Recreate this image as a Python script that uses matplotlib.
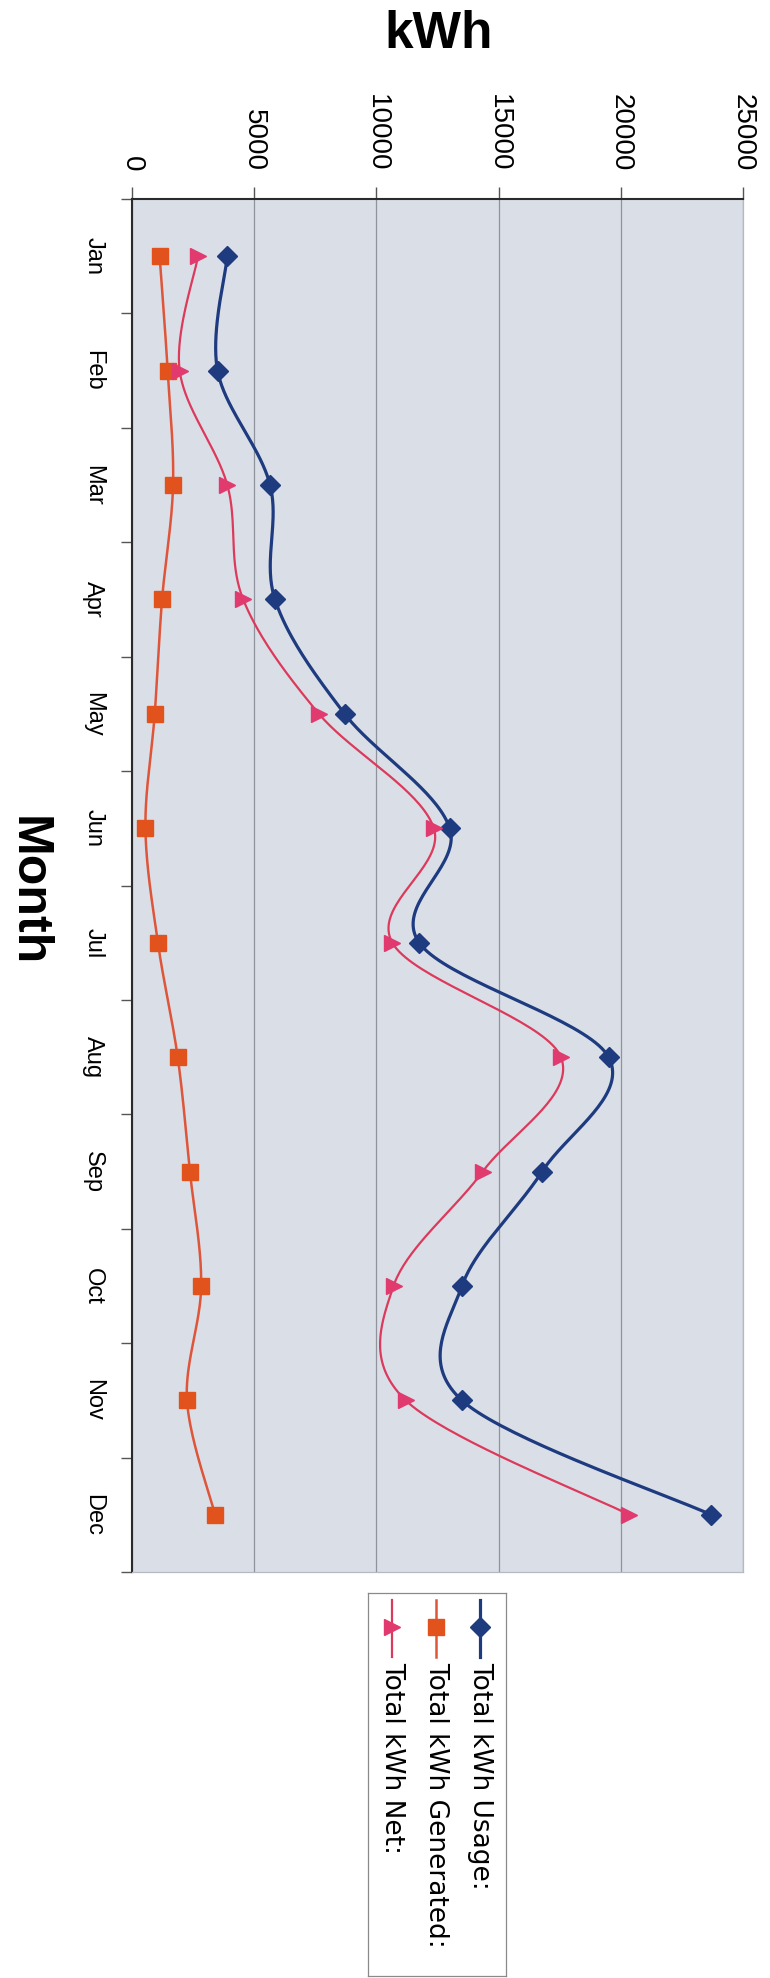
import numpy as np
import matplotlib
matplotlib.use("Agg")
import matplotlib.pyplot as plt

months = ['Jan', 'Feb', 'Mar', 'Apr', 'May', 'Jun', 'Jul', 'Aug', 'Sep', 'Oct', 'Nov', 'Dec']
usage = [3900, 3500, 5650, 5850, 8700, 13000, 11750, 19500, 16780, 13500, 13500, 23700]
generated = [1130, 1460, 1680, 1230, 930, 550, 1060, 1870, 2370, 2830, 2250, 3400]
net = [2700, 1950, 3900, 4550, 7650, 12350, 10650, 17550, 14350, 10700, 11200, 20350]
labels = ['Total kWh Usage:', 'Total kWh Generated:', 'Total kWh Net:']
kwh_ticks = [0, 5000, 10000, 15000, 20000, 25000]

plt.rcParams['font.family'] = ['Liberation Sans', 'DejaVu Sans']

W, H = 770, 1978
fig = plt.figure(figsize=(W / 100, H / 100), dpi=100)
L, R, T, B = 132, 743, 199, 1572
ax = fig.add_axes([L / W, 1 - B / H, (R - L) / W, (B - T) / H])
ax.set_facecolor('#dadfe7')

XMAX = 25000
sx = (R - L) / XMAX
sy = (B - T) / 12.0


def smooth(vals, n=40):
    # catmull-rom style bezier in pixel space, like excel's smoothed line
    P = np.column_stack([np.asarray(vals, float) * sx, np.arange(len(vals)) * sy])
    out = []
    for i in range(len(P) - 1):
        p0 = P[i - 1] if i > 0 else P[i]
        p3 = P[i + 2] if i + 2 < len(P) else P[i + 1]
        c1 = P[i] + (P[i + 1] - p0) / 6.0
        c2 = P[i + 1] - (p3 - P[i]) / 6.0
        t = np.linspace(0, 1, n)[:, None]
        seg = ((1 - t) ** 3) * P[i] + 3 * ((1 - t) ** 2) * t * c1 + 3 * (1 - t) * t * t * c2 + (t ** 3) * P[i + 1]
        out.append(seg if i == 0 else seg[1:])
    out = np.vstack(out)
    return out[:, 0] / sx, out[:, 1] / sy


# values, line colour, marker colour, marker, marker size, line width
series = [
    (usage, '#1e3b80', '#1e3b80', 'D', 10, 2.3),
    (generated, '#de553a', '#e2521c', 's', 11, 1.8),
    (net, '#dc3a5c', '#e03a6e', '>', 12, 1.6),
]
idx = np.arange(len(months))
for vals, lc, mc, mk, ms, lw in series:
    xs, ys = smooth(vals)
    ax.plot(xs, ys, color=lc, lw=lw, zorder=3)
    ax.plot(vals, idx, ls='none', marker=mk, ms=ms, color=mc, mec=mc, zorder=4)

ax.set_xlim(0, XMAX)
ax.set_ylim(11.5, -0.5)
ax.set_xticks(kwh_ticks)
ax.set_xticklabels([str(v) for v in kwh_ticks], rotation=-90, va='bottom', ha='center', fontsize=20)
ax.xaxis.tick_top()
ax.tick_params(axis='x', direction='out', length=9, width=1, color='#555555', pad=11)
ax.grid(axis='x', color='#8e939c', lw=0.9)
ax.set_axisbelow(True)

ax.set_yticks(np.arange(-0.5, 12, 1))
ax.set_yticklabels([])
ax.set_yticks(idx, minor=True)
ax.set_yticklabels(months, minor=True, rotation=-90, va='center', fontsize=17)
ax.tick_params(axis='y', which='major', direction='out', length=8, width=1, color='#555555')
ax.tick_params(axis='y', which='minor', length=0, pad=20)

for s in ['top', 'left']:
    ax.spines[s].set_color('#2a2a2a')
    ax.spines[s].set_linewidth(1.5)
for s in ['right', 'bottom']:
    ax.spines[s].set_color('#b5b9c1')
    ax.spines[s].set_linewidth(0.9)

fig.text(439 / W, 1 - 34 / H, 'kWh', fontsize=37, fontweight='bold', ha='center', va='center')
fig.text(28 / W, 1 - 891 / H, 'Month', fontsize=36, fontweight='bold', ha='center', va='center', rotation=-90)

# legend drawn by hand, since the whole chart is turned on its side
LL, LR, LT, LB = 368, 506, 1593, 1976
lg = fig.add_axes([LL / W, 1 - LB / H, (LR - LL) / W, (LB - LT) / H])
lg.set_xlim(0, LR - LL)
lg.set_ylim(LB - LT, 0)
lg.set_xticks([])
lg.set_yticks([])
for s in lg.spines.values():
    s.set_color('#8a8a8a')
    s.set_linewidth(0.9)
for k, (vals, lc, mc, mk, ms, lw) in enumerate(series):
    xc = 112 - 44 * k
    lg.plot([xc, xc], [7, 64], color=lc, lw=lw)
    lg.plot([xc], [34], marker=mk, ms=ms, color=mc, mec=mc, ls='none')
    lg.text(xc, 69, labels[k], rotation=-90, ha='center', va='top', fontsize=19,
            family=['DejaVu Sans'])

fig.savefig('out.png', dpi=100)
